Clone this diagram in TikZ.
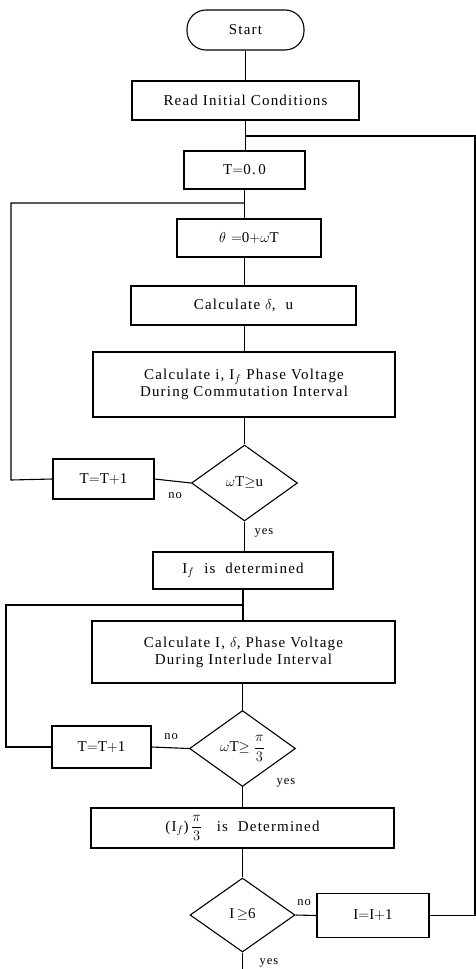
\documentclass[tikz,border=0pt]{standalone}
\usepackage{amsmath}
\usepackage{fontspec}
\setmainfont{Liberation Serif}[LetterSpace=8]
\usetikzlibrary{shapes.geometric}
\begin{document}
\begin{tikzpicture}[x=1pt,y=1pt,line width=1.1pt,
  box/.style={draw,rectangle,inner sep=0pt,align=center,font=\fontsize{15}{17}\selectfont},
  term/.style={draw,rectangle,rounded corners=19pt,inner sep=0pt,font=\fontsize{15}{17}\selectfont},
  dec/.style={draw,diamond,inner sep=0pt,minimum width=106pt,minimum height=76pt,font=\fontsize{15}{17}\selectfont},
  lbl/.style={font=\fontsize{12.5}{14}\selectfont,inner sep=1pt}]
\useasboundingbox (0,0) rectangle (476,-969);
\node[term,minimum width=117pt,minimum height=40pt] (start) at (245.5,-30) {Start};
\node[box,minimum width=227pt,minimum height=39pt] (read) at (245.5,-100.5) {Read Initial Conditions};
\node[box,minimum width=121pt,minimum height=38pt] (t0) at (244.5,-170) {T$=$0.\,0};
\node[box,minimum width=144pt,minimum height=38pt] (theta) at (249,-238) {$\theta$ $=$0$+\omega$T};
\node[box,minimum width=225pt,minimum height=39pt] (cdu) at (243.5,-305.5) {Calculate $\delta$,\ \ u};
\node[box,minimum width=302pt,minimum height=65pt] (ci) at (244,-384.5) {Calculate i,\ I$_f$ Phase Voltage\\During Commutation Interval};
\node[dec] (d1) at (244.5,-483) {$\omega$T$\geq$u};
\node[box,minimum width=101pt,minimum height=40pt] (tp1) at (103.5,-479) {T$=$T$+$1};
\node[box,minimum width=180pt,minimum height=37pt] (if) at (243,-570.5) {I$_f$\ \ is\ \ determined};
\node[box,minimum width=303pt,minimum height=62pt] (cI) at (243.5,-652) {Calculate I,\ $\delta$, Phase Voltage\\During Interlude Interval};
\node[dec] (d2) at (242.5,-748.5) {$\omega$T$\geq\dfrac{\pi}{3}$};
\node[box,minimum width=99pt,minimum height=42pt] (tp2) at (101.5,-747) {T$=$T$+$1};
\node[box,minimum width=303pt,minimum height=40pt] (det) at (242.5,-828) {(I$_f$)$\,\dfrac{\pi}{3}$\ \ \ is\ \ Determined};
\node[dec,minimum width=105pt,minimum height=74pt] (d3) at (242.5,-915) {I$\,\geq$6};
\node[box,minimum width=112pt,minimum height=44pt] (ipp) at (373,-915.5) {I$=$I$+$1};
\coordinate (j1) at (245.5,-136);
\coordinate (j2) at (244.5,-203);
\coordinate (j3) at (243,-605);
\coordinate (r1) at (475,-915.5);
\coordinate (l1) at (11,-480);
\coordinate (l2) at (6,-747);
\coordinate (bot) at (242.5,-969);
\draw (start) -- (read);
\draw (read) -- (t0.north -| read);
\draw (t0) -- (theta.north -| t0);
\draw (theta.south -| t0) -- (cdu.north -| t0);
\draw (cdu.south -| d1) -- (ci.north -| d1);
\draw (ci.south -| d1) -- (d1);
\draw (d1.west) -- (tp1.east);
\draw (tp1.west) -- (l1) |- (j2);
\draw (d1.south) -- (if.north -| d1);
\draw (if) -- (cI.north -| if);
\draw (cI.south -| d2) -- (d2);
\draw (d2.west) -- (tp2.east);
\draw (tp2.west) -- (l2) |- (j3);
\draw (d2.south) -- (det.north -| d2);
\draw (det) -- (d3);
\draw (d3.east) -- (ipp.west);
\draw (ipp.east) -- (r1) |- (j1);
\draw (d3.south) -- (bot);
\node[lbl] (no1) at (175,-496) {no};
\node[lbl] (yes1) at (264,-533) {yes};
\node[lbl] (no2) at (171,-737) {no};
\node[lbl] (yes2) at (286,-783) {yes};
\node[lbl] (no3) at (304,-903) {no};
\node[lbl] (yes3) at (269,-963) {yes};
\end{tikzpicture}
\end{document}
